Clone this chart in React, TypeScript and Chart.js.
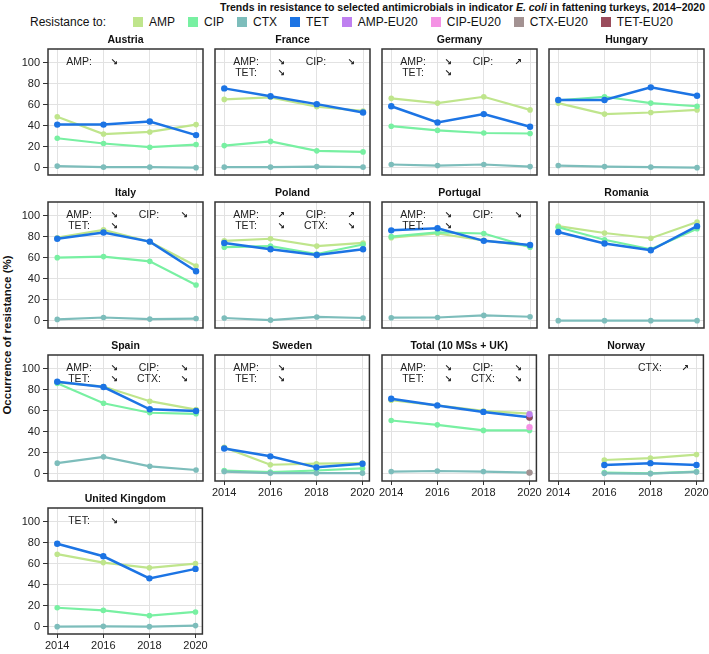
import { useEffect, useRef } from "react";
import { Chart, registerables } from "chart.js";

Chart.register(...registerables);

// ---------- data ----------
const YEARS = [2014, 2016, 2018, 2020];
const Y_TICKS = [0, 20, 40, 60, 80, 100];

const COUNTRIES = [
  "Austria", "France", "Germany", "Hungary",
  "Italy", "Poland", "Portugal", "Romania",
  "Spain", "Sweden", "Total (10 MSs + UK)", "Norway",
  "United Kingdom",
];

const AMP: (number | null)[][] = [
  [48.5, 32, 34, 41],
  [65, 67, 58, 54],
  [66, 61.5, 67.5, 55],
  [61.5, 51, 52.5, 55],
  [79, 86.5, 75, 52],
  [76, 78, 71, 74],
  [79, 83, 76.5, 71],
  [90, 83.5, 78.5, 94],
  [87, 83, 69, 61],
  [25, 8.5, 9.5, 10],
  [70, 65, 59.7, 57.2],
  [null, 13, 14.8, 18.2],
  [69, 61, 56, 60],
];

const CIP: (number | null)[][] = [
  [28, 23, 19.5, 22],
  [21, 25, 16, 15],
  [39.5, 35.5, 33, 32.5],
  [64, 67.5, 61.5, 58.5],
  [60, 61, 56.5, 34],
  [70, 71, 63.5, 72.5],
  [80, 84, 83, 70],
  [89, 77, 68, 87.5],
  [86, 67, 58, 57],
  [3, 1.5, 3, 5],
  [50.6, 46.5, 41.2, 41.2],
  [null, 1, 0.3, 2],
  [18, 15.5, 10.5, 14],
];

const CTX: (number | null)[][] = [
  [1.5, 0.5, 0.5, 0],
  [0.5, 0.5, 1, 0.5],
  [3, 2, 3, 1],
  [2, 1, 0.5, 0],
  [1.2, 3, 1.5, 2],
  [2.5, 0.5, 3.5, 2.5],
  [2.8, 3, 5, 3.7],
  [0, 0, 0, 0],
  [10, 16, 7, 3.5],
  [2, 0.5, 0.5, 0.5],
  [2, 2.5, 2, 1],
  [null, 0.3, 0, 1.6],
  [0, 0.3, 0, 1],
];

const TET: (number | null)[][] = [
  [41, 41, 44, 31],
  [75.5, 68, 60.5, 52.5],
  [58.5, 43, 51, 39],
  [64.5, 64.5, 76.5, 68.5],
  [78, 84, 75.3, 47],
  [74, 68, 62.5, 68],
  [86, 88, 76, 72],
  [84.5, 73.5, 67, 90],
  [87.5, 82.5, 61.3, 59.7],
  [24, 16.5, 6, 9.5],
  [71.4, 65, 58.8, 53.8],
  [null, 8.2, 10, 8.2],
  [79, 67, 46, 55],
];

// EU20 values (Total panel, 2020 only)
const EU20_YEAR = 2020;
const EU20_LABELS = ["AMP-EU20", "CIP-EU20", "CTX-EU20", "TET-EU20"];
const EU20_VALUES = [56.6, 44.3, 1, 53.5];

// trend notes: [panel, label, arrow, slot]
const TREND_NOTES: [string, string, string, number][] = [
  ["Austria", "AMP:", "↘", 0],
  ["France", "AMP:", "↘", 0], ["France", "TET:", "↘", 1], ["France", "CIP:", "↘", 2],
  ["Germany", "AMP:", "↘", 0], ["Germany", "TET:", "↘", 1], ["Germany", "CIP:", "↗", 2],
  ["Italy", "AMP:", "↘", 0], ["Italy", "TET:", "↘", 1], ["Italy", "CIP:", "↘", 2],
  ["Poland", "AMP:", "↗", 0], ["Poland", "TET:", "↘", 1], ["Poland", "CIP:", "↗", 2], ["Poland", "CTX:", "↘", 3],
  ["Portugal", "AMP:", "↘", 0], ["Portugal", "TET:", "↘", 1], ["Portugal", "CIP:", "↘", 2],
  ["Spain", "AMP:", "↘", 0], ["Spain", "TET:", "↘", 1], ["Spain", "CIP:", "↘", 2], ["Spain", "CTX:", "↘", 3],
  ["Sweden", "AMP:", "↘", 0], ["Sweden", "TET:", "↘", 1],
  ["Total (10 MSs + UK)", "AMP:", "↘", 0], ["Total (10 MSs + UK)", "TET:", "↘", 1],
  ["Total (10 MSs + UK)", "CIP:", "↘", 2], ["Total (10 MSs + UK)", "CTX:", "↘", 3],
  ["Norway", "CTX:", "↗", 2],
  ["United Kingdom", "TET:", "↘", 0],
];

const LEGEND_LABELS = ["AMP", "CIP", "CTX", "TET", "AMP-EU20", "CIP-EU20", "CTX-EU20", "TET-EU20"];

// ---------- styles ----------
const COLORS: Record<string, string> = {
  AMP: "#bfe58c",
  CIP: "#78f0a2",
  CTX: "#7dbdbb",
  TET: "#1c74e4",
  "AMP-EU20": "#bf80f0",
  "CIP-EU20": "#f492e4",
  "CTX-EU20": "#a39292",
  "TET-EU20": "#9a4c5c",
};

const FONT = "'Liberation Sans', Arial, sans-serif";
const BOX_W = 155;
const BOX_H = 126;
const COL_X0 = 48;
const COL_STEP = 167;
const ROW_Y0 = 49;
const ROW_STEP = 153;
const PAD_LEFT = 40;
const PAD_TOP = 18;
const PAD_RIGHT = 6;
const PAD_BOTTOM = 20;

function Panel({ idx }: { idx: number }) {
  const ref = useRef<HTMLCanvasElement>(null);
  const row = Math.floor(idx / 4);
  const col = idx % 4;
  const left = COL_X0 + col * COL_STEP - PAD_LEFT;
  const top = ROW_Y0 + row * ROW_STEP - PAD_TOP;
  const width = PAD_LEFT + BOX_W + PAD_RIGHT;
  const height = PAD_TOP + BOX_H + PAD_BOTTOM;

  useEffect(() => {
    if (!ref.current) return;
    const name = COUNTRIES[idx];
    const showY = col === 0;
    const showX = idx + 4 >= COUNTRIES.length;
    const pts = (vals: (number | null)[]) => YEARS.map((x, i) => ({ x, y: vals[i] }));
    const line = (label: string, vals: (number | null)[], order: number, bw: number, pr: number) => ({
      label,
      data: pts(vals),
      borderColor: COLORS[label],
      backgroundColor: COLORS[label],
      pointBackgroundColor: COLORS[label],
      pointBorderColor: COLORS[label],
      borderWidth: bw,
      pointRadius: pr,
      pointBorderWidth: 0,
      tension: 0,
      order,
      spanGaps: false,
    });
    const datasets: any[] = [
      line("AMP", AMP[idx], 3, 2.2, 2.8),
      line("CIP", CIP[idx], 2, 2.2, 2.8),
      line("CTX", CTX[idx], 1, 2.2, 2.8),
      line("TET", TET[idx], 0, 2.5, 3.2),
    ];
    if (name.startsWith("Total")) {
      EU20_LABELS.forEach((lab, i) => {
        datasets.push({
          label: lab,
          data: [{ x: EU20_YEAR, y: EU20_VALUES[i] }],
          borderColor: COLORS[lab],
          backgroundColor: COLORS[lab],
          pointBackgroundColor: COLORS[lab],
          pointBorderWidth: 0,
          pointRadius: 3.2,
          showLine: false,
          order: -1,
        });
      });
    }
    const notes = TREND_NOTES.filter((n) => n[0] === name);

    const deco = {
      id: "deco",
      afterDraw(chart: any) {
        const { ctx, chartArea } = chart;
        const { left: l, top: t, right: r, bottom: b } = chartArea;
        ctx.save();
        ctx.strokeStyle = "#333";
        ctx.lineWidth = 1.5;
        ctx.strokeRect(l, t, r - l, b - t);
        ctx.fillStyle = "#111";
        ctx.font = `bold 10.5px ${FONT}`;
        ctx.textAlign = "center";
        ctx.textBaseline = "middle";
        ctx.fillText(name, (l + r) / 2, t - 9);
        notes.forEach(([, lab, arrow, slot]) => {
          const cx = slot < 2 ? 0 : 70;
          const y = t + 13 + (slot % 2) * 11;
          ctx.font = `10.5px ${FONT}`;
          ctx.fillStyle = "#222";
          ctx.fillText(lab, l + 31 + cx, y);
          ctx.font = `bold 9px 'DejaVu Sans', sans-serif`;
          ctx.fillText(arrow, l + 66 + cx, y + 1);
        });
        ctx.restore();
      },
    };

    const chart = new Chart(ref.current, {
      type: "line",
      data: { datasets },
      options: {
        animation: false,
        responsive: false,
        maintainAspectRatio: false,
        layout: { padding: { left: 0, top: PAD_TOP, right: PAD_RIGHT, bottom: 0 } },
        plugins: { legend: { display: false }, title: { display: false }, tooltip: { enabled: false } },
        scales: {
          x: {
            type: "linear",
            bounds: "data",
            min: 2013.6,
            max: 2020.3,
            afterBuildTicks: (s: any) => { s.ticks = YEARS.map((v) => ({ value: v })); },
            afterFit: (s: any) => { s.height = PAD_BOTTOM; },
            border: { display: false },
            grid: { color: "#e2e2e2", lineWidth: 1, drawTicks: showX, tickLength: 4, tickColor: "#333", tickWidth: 1 },
            ticks: {
              display: showX, padding: 1, color: "#222", maxRotation: 0, autoSkip: false,
              font: { family: FONT, size: 11 },
              callback: (v: any) => String(v),
            },
          },
          y: {
            type: "linear",
            bounds: "data",
            min: -7,
            max: 113,
            afterBuildTicks: (s: any) => { s.ticks = Y_TICKS.map((v) => ({ value: v })); },
            afterFit: (s: any) => { s.width = PAD_LEFT; },
            border: { display: false },
            grid: { color: "#e2e2e2", lineWidth: 1, drawTicks: showY, tickLength: 5, tickColor: "#333", tickWidth: 1 },
            ticks: {
              display: showY, padding: 3, color: "#222",
              font: { family: FONT, size: 11 },
              callback: (v: any) => String(v),
            },
          },
        },
      },
      plugins: [deco],
    } as any);
    return () => chart.destroy();
  }, [idx]);

  return (
    <canvas
      ref={ref}
      width={width}
      height={height}
      style={{ position: "absolute", left, top, width, height }}
    />
  );
}

export default function App() {
  return (
    <div style={{ position: "absolute", left: 0, top: 0, width: 709, height: 654, background: "#fff", overflow: "hidden", fontFamily: FONT, color: "#111" }}>
      <div style={{ position: "absolute", right: 4, top: 1, fontSize: 10.5, fontWeight: "bold", whiteSpace: "nowrap" }}>
        Trends in resistance to selected antimicrobials in indicator <i>E. coli</i> in fattening turkeys, 2014–2020
      </div>
      <div style={{ position: "absolute", left: 30, top: 15, display: "flex", alignItems: "center", fontSize: 12, whiteSpace: "nowrap", lineHeight: "14px" }}>
        <span style={{ marginRight: 27 }}>Resistance to:</span>
        {LEGEND_LABELS.map((lab) => (
          <span key={lab} style={{ display: "flex", alignItems: "center", marginRight: 13 }}>
            <span style={{ width: 10, height: 10, background: COLORS[lab], marginRight: 6, display: "inline-block" }} />
            {lab}
          </span>
        ))}
      </div>
      <div style={{ position: "absolute", left: 7, top: 335, transform: "translate(-50%, -50%) rotate(-90deg)", fontSize: 11.5, fontWeight: "bold", whiteSpace: "nowrap" }}>
        Occurrence of resistance (%)
      </div>
      {COUNTRIES.map((_, i) => (
        <Panel key={i} idx={i} />
      ))}
    </div>
  );
}
